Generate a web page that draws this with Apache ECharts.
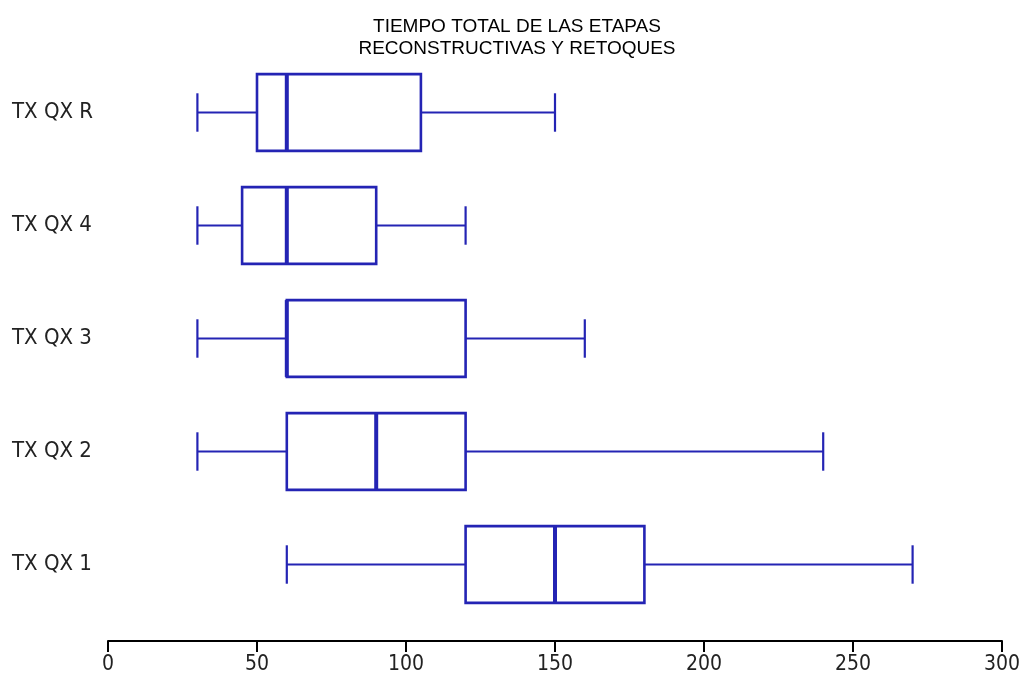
<!DOCTYPE html>
<html>
<head>
<meta charset="utf-8">
<script src="https://cdn.jsdelivr.net/npm/echarts@6/dist/echarts.min.js"></script>
<style>html,body{margin:0;padding:0;background:#fff}#c{width:1024px;height:675px}</style>
</head>
<body>
<div id="c"></div>
<script>
var categories = ['TX QX 1', 'TX QX 2', 'TX QX 3', 'TX QX 4', 'TX QX R'];
var minV = [60, 30, 30, 30, 30];
var q1V = [120, 60, 60, 45, 50];
var medV = [150, 90, 60, 60, 60];
var q3V = [180, 120, 120, 90, 105];
var maxV = [270, 240, 160, 120, 150];
var xTicks = [0, 50, 100, 150, 200, 250, 300];

var data = categories.map(function (c, i) {
  return [i, minV[i], q1V[i], medV[i], q3V[i], maxV[i]];
});
var BLUE = '#2424b4';

var chart = echarts.init(document.getElementById('c'));
chart.setOption({
  animation: false,
  backgroundColor: '#fff',
  title: {
    text: 'TIEMPO TOTAL DE LAS ETAPAS\nRECONSTRUCTIVAS Y RETOQUES',
    left: 512, top: 11, textAlign: 'center',
    textStyle: { fontFamily: 'Liberation Sans', fontSize: 19, fontWeight: 'normal', color: '#000', lineHeight: 22 }
  },
  grid: { left: 108, right: 22, top: 56, bottom: 52 },
  xAxis: {
    type: 'value', min: 0, max: 300, interval: 50, offset: 20,
    axisLine: { show: true, lineStyle: { color: '#000', width: 2 } },
    axisTick: { show: true, inside: false, length: 11, lineStyle: { color: '#000', width: 2 } },
    axisLabel: { fontFamily: 'DejaVu Sans Condensed', fontSize: 21, color: '#222', margin: 13,
      formatter: function (v) { return xTicks.indexOf(v) >= 0 ? String(v) : ''; } },
    splitLine: { show: false }
  },
  yAxis: {
    type: 'category', data: categories,
    axisLine: { show: false }, axisTick: { show: false },
    axisLabel: { fontFamily: 'DejaVu Sans Condensed', fontSize: 22, color: '#222', align: 'left', margin: 96 }
  },
  series: [{
    type: 'custom',
    data: data,
    encode: { x: [1, 2, 3, 4, 5], y: 0 },
    renderItem: function (params, api) {
      var idx = api.value(0);
      var pMin = api.coord([api.value(1), idx]);
      var pQ1 = api.coord([api.value(2), idx]);
      var pMed = api.coord([api.value(3), idx]);
      var pQ3 = api.coord([api.value(4), idx]);
      var pMax = api.coord([api.value(5), idx]);
      var band = api.size([0, 1])[1];
      var bh = band * 0.68;
      var ch = bh * 0.5;
      var y = pMin[1];
      var ls = { stroke: BLUE, lineWidth: 2.2, fill: null };
      return {
        type: 'group',
        children: [
          { type: 'line', shape: { x1: pMin[0], y1: y, x2: pQ1[0], y2: y }, style: ls },
          { type: 'line', shape: { x1: pQ3[0], y1: y, x2: pMax[0], y2: y }, style: ls },
          { type: 'line', shape: { x1: pMin[0], y1: y - ch / 2, x2: pMin[0], y2: y + ch / 2 }, style: ls },
          { type: 'line', shape: { x1: pMax[0], y1: y - ch / 2, x2: pMax[0], y2: y + ch / 2 }, style: ls },
          { type: 'rect', shape: { x: pQ1[0], y: y - bh / 2, width: pQ3[0] - pQ1[0], height: bh },
            style: { stroke: BLUE, lineWidth: 2.6, fill: '#fff' } },
          { type: 'line', shape: { x1: pMed[0], y1: y - bh / 2, x2: pMed[0], y2: y + bh / 2 },
            style: { stroke: BLUE, lineWidth: 4, fill: null } }
        ]
      };
    }
  }]
});
</script>
</body>
</html>
